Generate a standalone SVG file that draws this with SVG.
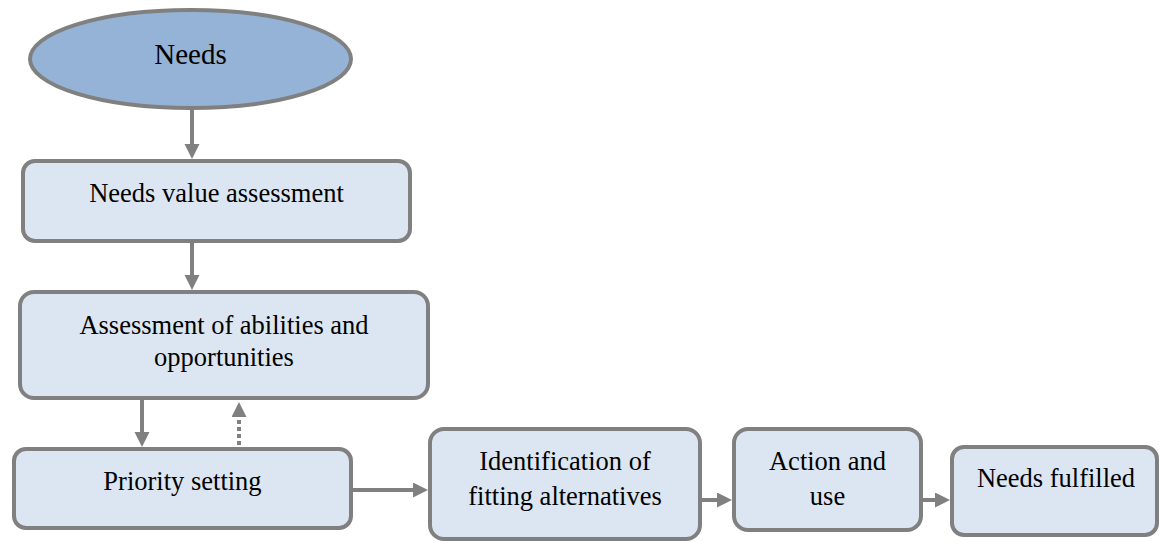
<svg xmlns="http://www.w3.org/2000/svg" width="1159" height="542" viewBox="0 0 1159 542" font-family="Liberation Serif">
  <style>
    .box { fill: #dce6f2; stroke: #808080; stroke-width: 4; }
    .start { fill: #95b3d7; stroke: #808080; stroke-width: 4; }
    .label { font-size: 26.5px; fill: #000; text-anchor: middle; }
    .conn { stroke: #808080; stroke-width: 4; fill: none; marker-end: url(#head); }
    .dotted { stroke-dasharray: 4 3; }
  </style>
  <defs>
    <marker id="head" markerUnits="userSpaceOnUse" markerWidth="16" markerHeight="16" refX="0" refY="7.5" orient="auto">
      <path d="M0,0 L15,7.5 L0,15 Z" fill="#808080"/>
    </marker>
  </defs>

  <g id="connectors">
    <line class="conn" x1="192" y1="110" x2="192" y2="144"/>
    <line class="conn" x1="192" y1="243" x2="192" y2="275"/>
    <line class="conn" x1="142" y1="400" x2="142" y2="432"/>
    <line class="conn dotted" x1="239" y1="445" x2="239" y2="417"/>
    <line class="conn" x1="353" y1="490" x2="413" y2="490"/>
    <line class="conn" x1="702" y1="500" x2="717" y2="500"/>
    <line class="conn" x1="923" y1="500" x2="935" y2="500"/>
  </g>

  <g id="needs">
    <ellipse class="start" cx="190.5" cy="59" rx="160.5" ry="49"/>
    <text class="label" x="190.5" y="64" font-family="Liberation Serif" style="font-size:29px">Needs</text>
  </g>

  <g id="value-assessment">
    <rect class="box" x="23" y="161" width="387" height="80" rx="12"/>
    <text class="label" x="216.5" y="202" font-family="Liberation Serif">Needs value assessment</text>
  </g>

  <g id="abilities">
    <rect class="box" x="20" y="292" width="408" height="106" rx="14"/>
    <text class="label" x="224" y="334" font-family="Liberation Serif">Assessment of abilities and</text>
    <text class="label" x="224" y="366" font-family="Liberation Serif">opportunities</text>
  </g>

  <g id="priority">
    <rect class="box" x="14" y="449" width="337" height="79" rx="12"/>
    <text class="label" x="182.5" y="490" font-family="Liberation Serif">Priority setting</text>
  </g>

  <g id="alternatives">
    <rect class="box" x="430" y="429" width="270" height="110" rx="14"/>
    <text class="label" x="565" y="470" font-family="Liberation Serif">Identification of</text>
    <text class="label" x="565" y="505" font-family="Liberation Serif">fitting alternatives</text>
  </g>

  <g id="action">
    <rect class="box" x="734" y="429" width="187" height="101" rx="14"/>
    <text class="label" x="827.5" y="470" font-family="Liberation Serif">Action and</text>
    <text class="label" x="827.5" y="505" font-family="Liberation Serif">use</text>
  </g>

  <g id="fulfilled">
    <rect class="box" x="952" y="447" width="205" height="88" rx="12"/>
    <text class="label" x="1056" y="487" font-family="Liberation Serif">Needs fulfilled</text>
  </g>
</svg>
